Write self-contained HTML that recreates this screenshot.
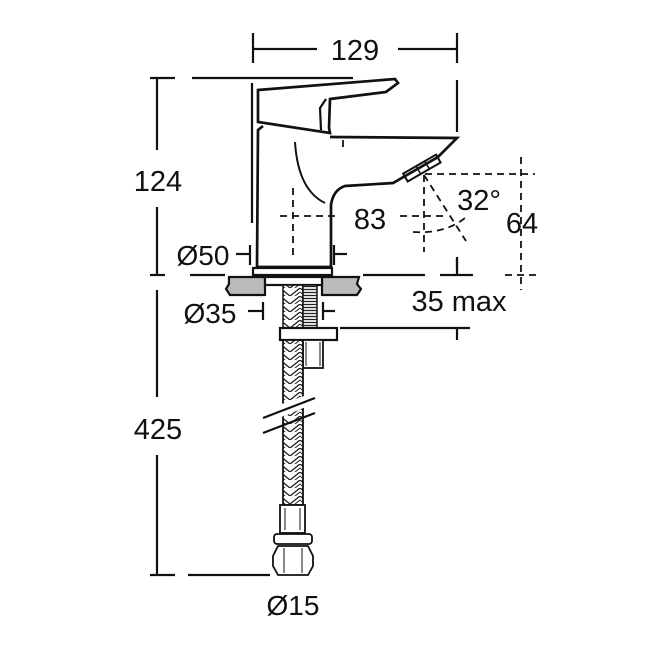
<!DOCTYPE html>
<html><head><meta charset="utf-8"><style>
html,body{margin:0;padding:0;background:#fff}
svg{display:block}
text{font-family:"Liberation Sans",sans-serif;fill:#111}
</style></head><body>
<svg width="650" height="650" viewBox="0 0 650 650" xmlns="http://www.w3.org/2000/svg">
<defs>
<pattern id="braid" width="20" height="8" patternUnits="userSpaceOnUse">
<rect width="20" height="8" fill="#fff"/>
<path d="M0 0 L10 8 L20 0" stroke="#222" stroke-width="1.3" fill="none"/>
<path d="M0 4 L5 8 M15 8 L20 4" stroke="#222" stroke-width="1" fill="none"/>
</pattern>
<pattern id="thread" width="4" height="3" patternUnits="userSpaceOnUse">
<rect width="4" height="3" fill="#fff"/><line x1="0" y1="1.5" x2="4" y2="1.5" stroke="#222" stroke-width="1.3"/>
</pattern>
</defs>
<g stroke="#111" stroke-width="2.2" fill="none">
<line x1="253" y1="33" x2="253" y2="63"/><line x1="457" y1="33" x2="457" y2="63"/>
<line x1="253" y1="49" x2="317" y2="49"/><line x1="398" y1="49" x2="457" y2="49"/>
<line x1="150" y1="78" x2="175" y2="78"/><line x1="192" y1="78" x2="353" y2="78"/>
<line x1="157" y1="78" x2="157" y2="150"/><line x1="157" y1="207" x2="157" y2="275"/>
<line x1="252" y1="83" x2="252" y2="223"/>
<line x1="457" y1="80" x2="457" y2="132"/>
<line x1="150" y1="275" x2="165" y2="275"/><line x1="190" y1="275" x2="225" y2="275"/>
<line x1="363" y1="275" x2="425" y2="275"/>
<line x1="440" y1="275" x2="473" y2="275"/><line x1="457" y1="258" x2="457" y2="275"/>
<line x1="157" y1="290" x2="157" y2="397"/><line x1="157" y1="455" x2="157" y2="575"/>
<line x1="150" y1="575" x2="175" y2="575"/><line x1="188" y1="575" x2="270" y2="575"/>
<path d="M258 90 L395 79 L398 83 L386 92 L330 99 L329 128 L330 133 L258 122 Z" stroke-width="2.7"/>
<path d="M326 99 L320 108 L321 130"/>
<path d="M263 126 L258 130 L257 267 L331 267 L331 205 Q333 190 345 186 L393 183 L438 157 L457 138 L330 137" stroke-width="2.7"/>
<path d="M295 142 Q298 190 325 203" stroke-width="2"/>
<g transform="rotate(-30 423 168)"><rect x="403" y="163" width="38" height="9" stroke-width="2"/><rect x="418" y="163" width="10" height="9" stroke-width="1.5"/></g>
<rect x="253" y="268" width="79" height="7" stroke-width="2.2"/>
<path d="M229 277 L265 277 L265 295 L230 295 L226 289 L229 284 Z" fill="#bbb"/>
<path d="M322 277 L359 277 L357 284 L361 289 L357 295 L322 295 Z" fill="#bbb"/>
<rect x="265" y="277" width="57" height="8" fill="#fff"/>
<rect x="283" y="285" width="20" height="43" fill="url(#braid)" stroke-width="1.5"/>
<rect x="303" y="285" width="14" height="43" fill="url(#thread)" stroke-width="1.5"/>
<rect x="280" y="328" width="57" height="12" fill="#fff"/>
<rect x="303" y="340" width="20" height="28" fill="#fff" stroke-width="1.8"/>
<line x1="306" y1="342" x2="306" y2="366" stroke-width="1"/><line x1="320" y1="342" x2="320" y2="366" stroke-width="1"/>
<rect x="283" y="340" width="20" height="165" fill="url(#braid)" stroke-width="1.8"/>
<polygon points="262,411 318,391 318,402 262,425" fill="#fff" stroke="none"/>
<line x1="263" y1="418" x2="315" y2="398"/><line x1="263" y1="433" x2="315" y2="413"/>
<rect x="280" y="505" width="25" height="28" fill="#fff" stroke-width="1.8"/>
<line x1="285" y1="508" x2="285" y2="530" stroke-width="1"/><line x1="300" y1="508" x2="300" y2="530" stroke-width="1"/>
<rect x="274" y="534" width="38" height="10" rx="3" fill="#fff" stroke-width="1.8"/>
<path d="M278 546 L308 546 L313 556 L313 566 L308 575 L278 575 L273 566 L273 556 Z" fill="#fff" stroke-width="1.8"/>
<line x1="284" y1="548" x2="284" y2="573" stroke-width="1"/><line x1="302" y1="548" x2="302" y2="573" stroke-width="1"/>
<line x1="236" y1="254" x2="250" y2="254"/><line x1="250" y1="245" x2="250" y2="265"/>
<line x1="334" y1="245" x2="334" y2="265"/><line x1="334" y1="254" x2="347" y2="254"/>
<line x1="248" y1="311" x2="263" y2="311"/><line x1="263" y1="302" x2="263" y2="320"/>
<line x1="323" y1="302" x2="323" y2="320"/><line x1="323" y1="311" x2="335" y2="311"/>
<line x1="340" y1="328" x2="470" y2="328"/><line x1="457" y1="328" x2="457" y2="340"/>
<line x1="457" y1="257" x2="457" y2="270"/>
</g>
<g stroke="#111" stroke-width="1.8" fill="none" stroke-dasharray="7,5">
<line x1="280" y1="216" x2="340" y2="216"/><line x1="400" y1="216" x2="445" y2="216"/>
<line x1="293" y1="188" x2="293" y2="255"/>
<line x1="424" y1="175" x2="424" y2="252"/>
<line x1="425" y1="174" x2="535" y2="174"/>
<line x1="521" y1="157" x2="521" y2="290"/>
<line x1="505" y1="275" x2="540" y2="275"/>
<line x1="424" y1="175" x2="466" y2="241"/>
<path d="M413 232 Q445 234 465 218"/>
<line x1="343" y1="140" x2="343" y2="150"/>
</g>
<text x="355" y="60" font-size="29" text-anchor="middle">129</text>
<text x="158" y="191" font-size="29" text-anchor="middle">124</text>
<text x="158" y="439" font-size="29" text-anchor="middle">425</text>
<text x="370" y="229" font-size="29" text-anchor="middle">83</text>
<text x="479" y="210" font-size="29" text-anchor="middle">32°</text>
<text x="522" y="233" font-size="29" text-anchor="middle">64</text>
<text x="203" y="265" font-size="28" text-anchor="middle">Ø50</text>
<text x="210" y="323" font-size="28" text-anchor="middle">Ø35</text>
<text x="459" y="311" font-size="29" text-anchor="middle">35 max</text>
<text x="293" y="615" font-size="28" text-anchor="middle">Ø15</text>
</svg>
</body></html>
